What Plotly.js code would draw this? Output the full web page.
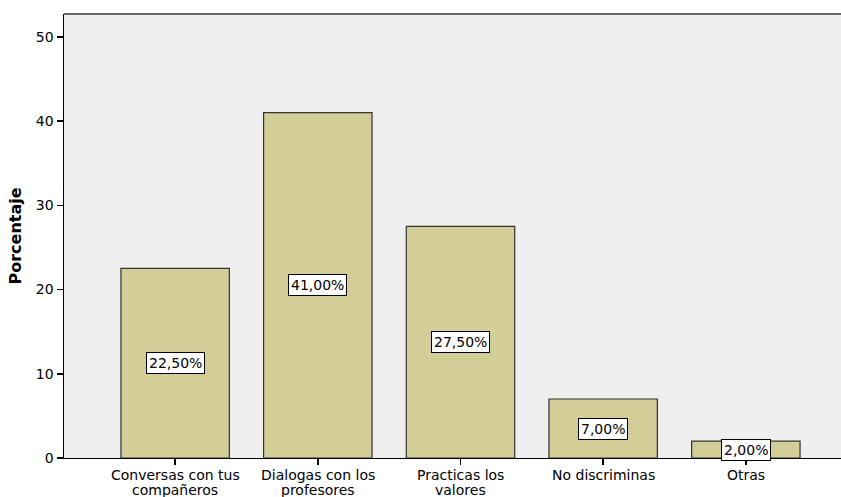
<!DOCTYPE html>
<html><head><meta charset="utf-8">
<script src="https://cdn.plot.ly/plotly-3.0.1.min.js"></script>
<style>html,body{margin:0;padding:0;background:#fff}</style>
</head><body><div id="chart" style="width:841px;height:497px"></div>
<script>
const categories = ["Conversas con tus|compañeros","Dialogas con los|profesores","Practicas los|valores","No discriminas","Otras"];
const values = [22.5, 41.0, 27.5, 7.0, 2.0];
const labels = ["22,50%","41,00%","27,50%","7,00%","2,00%"];
const yTicks = [0,10,20,30,40,50];

const FONT = 'DejaVu Sans, Verdana, sans-serif';
const idx = categories.map((c,i)=>i);
const trace = {
  type:'bar', x: idx, y: values, width:0.76,
  marker:{color:'#d3cd97', line:{color:'#333333', width:1.2}},
  hoverinfo:'skip'
};
const annotations = values.map((v,i)=>({
  x:i, y:v/2, xref:'x', yref:'y', text:labels[i], showarrow:false,
  font:{family:FONT, size:14, color:'#000'},
  bgcolor:'#ffffff', bordercolor:'#000000', borderwidth:1, borderpad:2
}));
// category tick labels, one annotation per text line (tight line spacing as in the reference)
categories.forEach((c,i)=>{
  c.split('|').forEach((line,k)=>{
    annotations.push({x:i, y:0, xref:'x', yref:'paper', yanchor:'middle', yshift:-16.5-15*k,
      text:line, showarrow:false, borderpad:0, font:{family:FONT, size:14, color:'#000'}});
  });
});
const layout = {
  width:841, height:497,
  margin:{l:64, r:0, t:14, b:39},
  paper_bgcolor:'#ffffff', plot_bgcolor:'#efefef',
  showlegend:false,
  font:{family:FONT, size:14, color:'#000'},
  xaxis:{range:[-0.779,4.667], tickmode:'array', tickvals:idx, showticklabels:false,
    ticks:'outside', ticklen:6, tickcolor:'#000', tickwidth:1.5, showgrid:false, zeroline:false,
    showline:true, linecolor:'#000', linewidth:1.2, fixedrange:true},
  yaxis:{range:[0,52.7], tickmode:'array', tickvals:yTicks, ticks:'outside', ticklen:6,
    tickcolor:'#000', tickwidth:1.5, showgrid:false, zeroline:false, showline:true,
    linecolor:'#000', linewidth:1.5, tickfont:{size:14},
    title:{text:'<b>Porcentaje</b>', font:{size:16}, standoff:10}},
  shapes:[{type:'line', xref:'paper', yref:'paper', x0:0, x1:1, y0:1, y1:1, line:{color:'#666', width:2}}],
  annotations: annotations
};
Plotly.newPlot('chart',[trace],layout,{staticPlot:true,displayModeBar:false});
</script></body></html>
